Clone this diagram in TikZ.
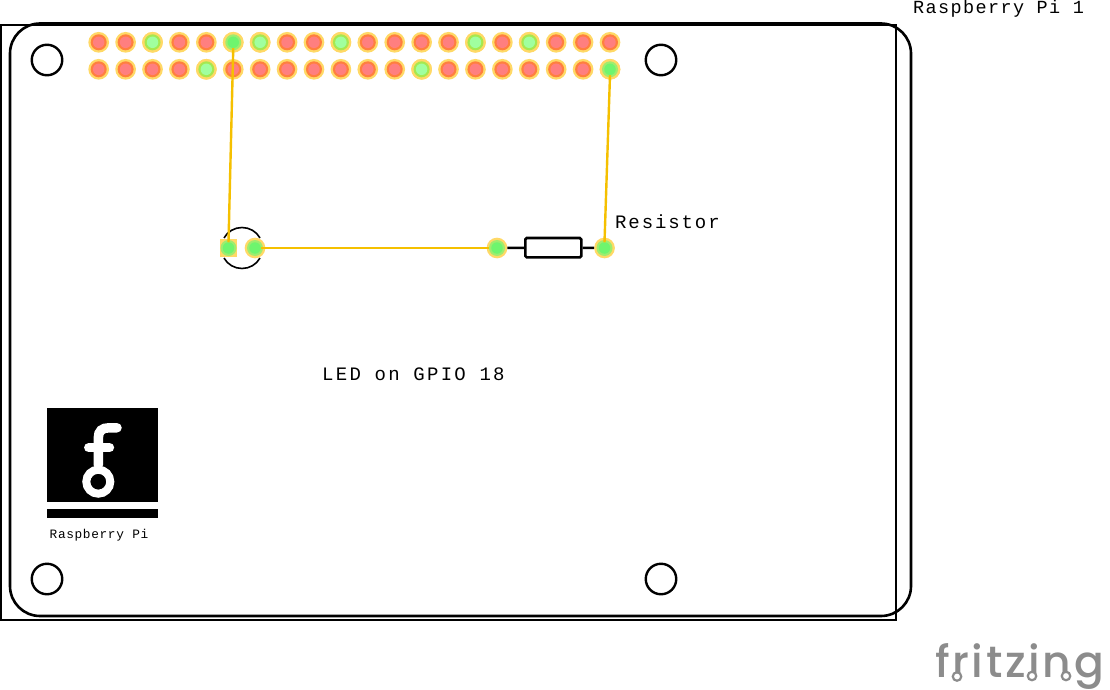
\documentclass[tikz,border=0pt]{standalone}
\usepackage{fontspec}
\newfontfamily\ocr[LetterSpace=10]{Liberation Mono}
\newfontfamily\ocrl[LetterSpace=12]{Liberation Mono}
\newfontfamily\ocrb[LetterSpace=7.5]{Liberation Mono}
\newfontfamily\ocrc[LetterSpace=5]{Liberation Mono}
\newfontfamily\logofont[LetterSpace=6]{Poppins Medium}
\definecolor{padout}{HTML}{FFD966}
\definecolor{redmid}{HTML}{FF7F3F}
\definecolor{redin}{HTML}{FF7F7F}
\definecolor{greenmid}{HTML}{A6E84F}
\definecolor{greenin}{HTML}{A0FF9F}
\definecolor{brightmid}{HTML}{9FEC6F}
\definecolor{brightin}{HTML}{6EF56E}
\definecolor{wirecol}{HTML}{F5C000}
\definecolor{logogray}{HTML}{8C8C8C}
\tikzset{
  ink/.style={draw=black,line width=2.6pt},
  disc/.style={circle,inner sep=0pt,outer sep=0pt,minimum size=#1,draw=none},
  wire/.style={draw=wirecol,line width=2.4pt},
  lbl/.style={inner sep=0pt,anchor=base west,font=\ocr\fontsize{19}{22}\selectfont},
  lead/.style={draw=black,line width=2.6pt},
  ledarc/.style={draw=black,line width=1.6pt},
  dotring/.style={circle,draw=logogray,fill=white,line width=2.2pt,inner sep=0pt,minimum size=#1},
}
% name, x, y, mid colour, inner colour
\newcommand{\padpin}[5]{%
  \node[disc=20.7pt,fill=padout] (#1) at (#2,#3) {};
  \node[disc=16pt,fill=#4] (#1m) at (#2,#3) {};
  \node[disc=11.5pt,fill=#5] (#1i) at (#2,#3) {};
}
\begin{document}
\begin{tikzpicture}[x=1pt,y=-1pt]
\useasboundingbox (0,0) rectangle (1110,690);
\fill[white] (0,0) rectangle (1110,690);
% board
\draw[ink] (1,25) rectangle (896,620);
\draw[ink,rounded corners=30pt] (10,23.5) rectangle (911,616);
% mounting holes
\foreach \n/\x/\y in {ha/47/60,hb/661/60,hc/47/579,hd/661/579}
  \node[circle,draw=black,line width=2.4pt,inner sep=0pt,minimum size=30.5pt] (\n) at (\x,\y) {};
% header pins
\foreach \i in {0,...,19} {
  \pgfmathsetmacro{\px}{98.7+26.91*\i}
  \padpin{t\i}{\px}{42.3}{redmid}{redin}
  \padpin{b\i}{\px}{69.3}{redmid}{redin}
}
\foreach \i in {2,6,9,14,16} {
  \pgfmathsetmacro{\px}{98.7+26.91*\i}
  \padpin{t\i}{\px}{42.3}{greenmid}{greenin}
}
\foreach \i in {4,12} {
  \pgfmathsetmacro{\px}{98.7+26.91*\i}
  \padpin{b\i}{\px}{69.3}{greenmid}{greenin}
}
\padpin{t5}{233.25}{42.3}{brightmid}{brightin}
\padpin{b19}{610}{69.3}{brightmid}{brightin}
% LED
\draw[ledarc] (224,238) .. controls (227.56,231.46) and (234.55,227.5) .. (242,227.5) .. controls (249.45,227.5) and (256.44,231.46) .. (260,238);
\draw[ledarc] (224,258) .. controls (227.56,264.54) and (234.55,268.5) .. (242,268.5) .. controls (249.45,268.5) and (256.44,264.54) .. (260,258);
\node[rectangle,minimum size=17.5pt,inner sep=0pt,outer sep=0pt,fill=padout] (ledasq) at (228.5,248) {};
\node[disc=16pt,fill=brightmid] (ledam) at (228.5,248) {};
\node[disc=11.5pt,fill=brightin] (ledai) at (228.5,248) {};
\padpin{ledk}{255}{248}{brightmid}{brightin}
% resistor
\node[draw=black,line width=2.6pt,rounded corners=1.5pt,minimum width=56pt,minimum height=19.4pt,inner sep=0pt] (res) at (553.3,247.7) {};
\padpin{resa}{497}{248}{brightmid}{brightin}
\padpin{resb}{604.5}{248}{brightmid}{brightin}
\draw[lead] (resa) -- (res);
\draw[lead] (res) -- (resb);
% wires
\draw[wire] (t5i.south) -- (ledai.north);
\draw[wire] (b19i.south) -- (resbi.north);
\draw[wire] (ledki.east) -- (resam.west);
% logo
\fill[black] (47,408) rectangle (157.5,502);
\fill[black] (47,508.5) rectangle (157.5,518);
\draw[white,line width=9.5pt,line cap=round] (117,427.8) -- (109,427.8) .. controls (102,427.8) and (98.3,431) .. (98.3,438) -- (98.3,465);
\draw[white,line width=9.3pt,line cap=round] (88.7,447.7) -- (109.5,447.7);
\node[circle,draw=white,line width=8pt,inner sep=0pt,minimum size=24pt] (logoring) at (98.3,481.7) {};
% labels
\node[lbl,font=\ocrb\fontsize{18.5}{22}\selectfont] (ltitle) at (913,13.2) {Raspberry Pi 1};
\node[lbl] (lres) at (615,228) {Resistor};
\node[lbl,font=\ocrl\fontsize{19}{22}\selectfont] (lled) at (322,380) {LED on GPIO 18};
\node[lbl,font=\ocrc\fontsize{12.8}{15}\selectfont] (llogo) at (49.5,538) {Raspberry Pi};
\node[inner sep=0pt,anchor=base west,text=logogray,font=\logofont\fontsize{44}{48}\selectfont] (lfritz) at (935,677) {fritzing};
% logo ring details
\foreach \n/\x/\y in {ra/957/676.5,rb/1032/676,rc/1066/676}
  \node[dotring=8.5pt] (\n) at (\x,\y) {};
\end{tikzpicture}
\end{document}
